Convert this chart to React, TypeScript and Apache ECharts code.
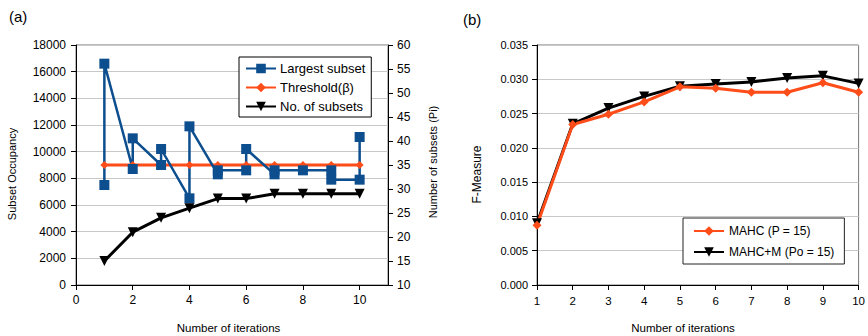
import React, { useEffect, useRef } from "react";
import * as echarts from "echarts";

// ---- Panel (a) data ----
const largestX = [1, 1, 2, 2, 3, 3, 4, 4, 5, 5, 6, 6, 7, 7, 8, 9, 9, 10, 10];
const largestY = [7500, 16600, 8700, 11000, 9000, 10200, 6500, 11900, 8300, 8600, 8600, 10200, 8300, 8600, 8600, 8600, 7900, 7900, 11100];
const iterations = [1, 2, 3, 4, 5, 6, 7, 8, 9, 10];
const threshold = [9000, 9000, 9000, 9000, 9000, 9000, 9000, 9000, 9000, 9000];
const numSubsets = [15, 21, 24, 26, 28, 28, 29, 29, 29, 29];
const xTicksA = [0, 2, 4, 6, 8, 10];

// ---- Panel (b) data ----
const mahc = [0.0087, 0.0234, 0.0249, 0.0267, 0.0289, 0.0287, 0.0281, 0.0281, 0.0295, 0.0281];
const mahcM = [0.009, 0.0235, 0.0258, 0.0275, 0.029, 0.0293, 0.0296, 0.0302, 0.0305, 0.0294];

const FONT = "'Liberation Sans', Arial, sans-serif";
const BLUE = "#0C4E8E";
const ORANGE = "#FF4D1A";
const BLACK = "#000000";

export default function App() {
  const ref = useRef<HTMLDivElement>(null);

  useEffect(() => {
    if (!ref.current) return;
    const chart = echarts.init(ref.current, undefined, { renderer: "svg" });

    const pair = (xs: number[], ys: number[]) => xs.map((x, i) => [x, ys[i]]);

    const axisLineStyle = { show: true, lineStyle: { color: "#000", width: 1 } };
    const tickStyle = { show: true, length: 5, inside: false, lineStyle: { color: "#000" } };
    const labelStyle = (size: number) => ({ color: "#000", fontSize: size, fontFamily: FONT });
    const splitStyle = { show: true, lineStyle: { color: "#C8C8C8", width: 1.2 } };
    const plain = (v: number) => String(v);

    chart.setOption({
      animation: false,
      textStyle: { fontFamily: FONT },
      grid: [
        { left: 76, top: 45, width: 312, height: 240, show: true, borderColor: "#777", borderWidth: 1, backgroundColor: "transparent" },
        { left: 537, top: 45, width: 325, height: 240, show: true, borderColor: "#777", borderWidth: 1, backgroundColor: "transparent" },
      ],
      xAxis: [
        {
          type: "value", gridIndex: 0, min: 0, max: 11, interval: 2,
          axisLine: axisLineStyle,
          axisTick: { ...tickStyle, customValues: xTicksA },
          axisLabel: { ...labelStyle(12), margin: 9, customValues: xTicksA, formatter: plain },
          splitLine: { show: false },
        },
        {
          type: "value", gridIndex: 1, min: 1, max: 10, interval: 1,
          axisLine: axisLineStyle,
          axisTick: tickStyle,
          axisLabel: { ...labelStyle(11.5), margin: 10, formatter: plain },
          splitLine: { show: false },
        },
      ],
      yAxis: [
        {
          type: "value", gridIndex: 0, min: 0, max: 18000, interval: 2000,
          axisLine: axisLineStyle, axisTick: tickStyle,
          axisLabel: { ...labelStyle(12), margin: 10, formatter: plain },
          splitLine: splitStyle,
        },
        {
          type: "value", gridIndex: 0, position: "right", min: 10, max: 60, interval: 5,
          axisLine: axisLineStyle, axisTick: tickStyle,
          axisLabel: { ...labelStyle(12), margin: 9, formatter: plain },
          splitLine: { show: false },
        },
        {
          type: "value", gridIndex: 1, min: 0, max: 0.035, interval: 0.005,
          axisLine: axisLineStyle, axisTick: tickStyle,
          axisLabel: { ...labelStyle(11), margin: 9, formatter: (v: number) => v.toFixed(3) },
          splitLine: splitStyle,
        },
      ],
      legend: [
        {
          data: ["Largest subset", "Threshold(β)", "No. of subsets"],
          orient: "vertical", left: 239, top: 57,
          itemWidth: 30, itemHeight: 12, itemGap: 6, padding: [5, 6, 4, 6],
          borderColor: "#000", borderWidth: 1, backgroundColor: "#fff",
          textStyle: { color: "#000", fontSize: 13, fontFamily: FONT, padding: [0, 0, 0, -1] },
        },
        {
          data: ["MAHC (P = 15)", "MAHC+M (Po = 15)"],
          orient: "vertical", left: 683, top: 218,
          itemWidth: 30, itemHeight: 12, itemGap: 9, padding: [7, 10, 6, 10],
          borderColor: "#222", borderWidth: 1, backgroundColor: "#fff",
          textStyle: { color: "#000", fontSize: 12, fontFamily: FONT },
        },
      ],
      series: [
        {
          name: "Threshold(β)", type: "line", xAxisIndex: 0, yAxisIndex: 0,
          data: pair(iterations, threshold),
          symbol: "diamond", symbolSize: 8, showAllSymbol: true,
          lineStyle: { color: ORANGE, width: 3 }, itemStyle: { color: ORANGE },
        },
        {
          name: "Largest subset", type: "line", xAxisIndex: 0, yAxisIndex: 0,
          data: pair(largestX, largestY),
          symbol: "rect", symbolSize: 10, showAllSymbol: true,
          lineStyle: { color: BLUE, width: 2.5 }, itemStyle: { color: BLUE },
        },
        {
          name: "No. of subsets", type: "line", xAxisIndex: 0, yAxisIndex: 1,
          data: pair(iterations, numSubsets),
          symbol: "triangle", symbolRotate: 180, symbolSize: 10, showAllSymbol: true,
          lineStyle: { color: BLACK, width: 3 }, itemStyle: { color: BLACK },
        },
        {
          name: "MAHC+M (Po = 15)", type: "line", xAxisIndex: 1, yAxisIndex: 2,
          data: pair(iterations, mahcM),
          symbol: "triangle", symbolRotate: 180, symbolSize: 10, showAllSymbol: true,
          lineStyle: { color: BLACK, width: 3 }, itemStyle: { color: BLACK },
        },
        {
          name: "MAHC (P = 15)", type: "line", xAxisIndex: 1, yAxisIndex: 2,
          data: pair(iterations, mahc),
          symbol: "diamond", symbolSize: 9, showAllSymbol: true,
          lineStyle: { color: ORANGE, width: 3 }, itemStyle: { color: ORANGE },
        },
      ],
      graphic: [
        { type: "text", x: 9, y: 16, style: { text: "(a)", fontSize: 15, fontFamily: FONT, fill: "#000", textVerticalAlign: "middle" } },
        { type: "text", x: 463, y: 19, style: { text: "(b)", fontSize: 15, fontFamily: FONT, fill: "#000", textVerticalAlign: "middle" } },
        { type: "text", x: 11.7, y: 174, rotation: Math.PI / 2, style: { text: "Subset Occupancy", fontSize: 11, fontFamily: FONT, fill: "#000", textAlign: "center", textVerticalAlign: "middle" } },
        { type: "text", x: 433, y: 162, rotation: Math.PI / 2, style: { text: "Number of subsets (Pi)", fontSize: 11, fontFamily: FONT, fill: "#000", textAlign: "center", textVerticalAlign: "middle" } },
        { type: "text", x: 228.5, y: 327.5, style: { text: "Number of iterations", fontSize: 11.5, fontFamily: FONT, fill: "#000", textAlign: "center", textVerticalAlign: "middle" } },
        { type: "text", x: 476.7, y: 174.5, rotation: Math.PI / 2, style: { text: "F-Measure", fontSize: 12, fontFamily: FONT, fill: "#000", textAlign: "center", textVerticalAlign: "middle" } },
        { type: "text", x: 683, y: 327.5, style: { text: "Number of iterations", fontSize: 11.5, fontFamily: FONT, fill: "#000", textAlign: "center", textVerticalAlign: "middle" } },
      ],
    });

    return () => chart.dispose();
  }, []);

  return (
    <div
      ref={ref}
      style={{ position: "absolute", left: 0, top: 0, width: 868, height: 336, background: "#fff" }}
    />
  );
}
